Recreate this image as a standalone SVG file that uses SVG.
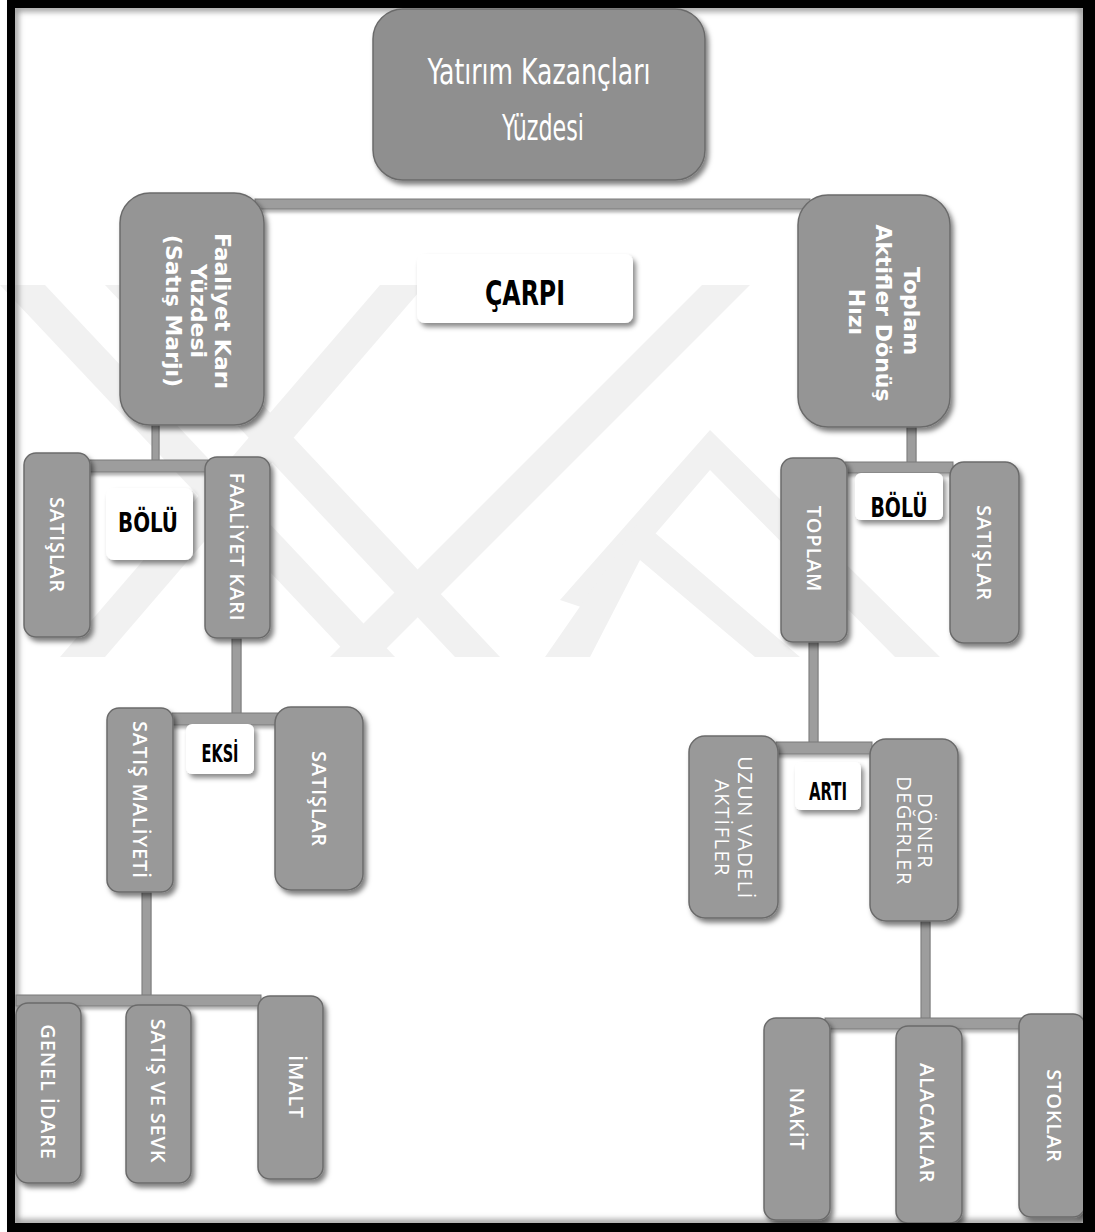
<svg xmlns="http://www.w3.org/2000/svg" width="1095" height="1232" viewBox="0 0 1095 1232">
  <defs>
    <style>
      .box{fill:#999999;stroke:#6b6b6b;stroke-width:1.5;filter:url(#sh)}
      .big{fill:#8f8f8f}
      .bar{fill:#9d9d9d;stroke:#7a7a7a;stroke-width:1;filter:url(#shc)}
      .lbl{fill:#ffffff;filter:url(#shl)}
      .op{font-family:"Liberation Sans Narrow","DejaVu Sans Condensed","Liberation Sans",sans-serif;font-weight:bold;fill:#000000;text-anchor:middle}
      .nt{font-family:"Open Sans","DejaVu Sans",sans-serif;font-size:20px;font-weight:600;letter-spacing:0.8px;fill:#ffffff;text-anchor:middle}
      .nb{font-family:"DejaVu Sans",sans-serif;font-weight:bold;font-size:22px;fill:#ffffff;text-anchor:middle}
      .tt{font-family:"Liberation Sans Narrow","DejaVu Sans Condensed","Liberation Sans",sans-serif;font-size:35px;fill:#ffffff;text-anchor:middle}
      .wm{fill:#f1f1f1}
    </style>
    <filter id="sh" x="-20%" y="-20%" width="150%" height="150%">
      <feDropShadow dx="3" dy="4" stdDeviation="2.5" flood-color="#000000" flood-opacity="0.5"/>
    </filter>
    <filter id="shc" x="-10%" y="-50%" width="120%" height="250%">
      <feDropShadow dx="1" dy="3" stdDeviation="1.5" flood-color="#000000" flood-opacity="0.3"/>
    </filter>
    <filter id="shl" x="-20%" y="-30%" width="150%" height="170%">
      <feDropShadow dx="3" dy="4" stdDeviation="2.5" flood-color="#000000" flood-opacity="0.45"/>
    </filter>
    <filter id="blur" x="-5%" y="-5%" width="110%" height="110%">
      <feGaussianBlur stdDeviation="3"/>
    </filter>
  </defs>

  <!-- page -->
  <rect x="0" y="0" width="1095" height="1232" fill="#ffffff"/>

  <!-- faint background emblem -->
  <g id="emblem" class="wm">
    <polygon points="0,285 45,285 395,657 350,657"/>
    <polygon points="105,285 150,285 500,657 455,657"/>
    <polygon points="60,657 105,657 425,285 380,285"/>
    <polygon points="330,657 378,657 750,285 702,285"/>
    <polygon points="560,600 710,430 940,657 895,657 710,470 590,610"/>
    <polygon points="545,657 640,520 800,657 755,657 640,560 590,657"/>
  </g>

  <!-- inner shading along the frame -->
  <rect x="15" y="8" width="1068" height="1215" fill="none" stroke="#8a8a8a" stroke-width="6" filter="url(#blur)"/>

  <!-- connectors -->
  <g id="connectors">
    <rect class="bar" x="255" y="199" width="555" height="10"/>
    <rect class="bar" x="152" y="420" width="7" height="45"/>
    <rect class="bar" x="88" y="460" width="120" height="12"/>
    <rect class="bar" x="232" y="636" width="9" height="80"/>
    <rect class="bar" x="172" y="713" width="106" height="12"/>
    <rect class="bar" x="142" y="890" width="9" height="108"/>
    <rect class="bar" x="16" y="995" width="245" height="11"/>
    <rect class="bar" x="907" y="424" width="9" height="42"/>
    <rect class="bar" x="845" y="462" width="108" height="11"/>
    <rect class="bar" x="809" y="640" width="9" height="105"/>
    <rect class="bar" x="776" y="742" width="96" height="12"/>
    <rect class="bar" x="921" y="921" width="9" height="100"/>
    <rect class="bar" x="825" y="1018" width="198" height="11"/>
  </g>

  <!-- nodes -->
  <g id="n-root">
    <rect class="box big" x="373" y="9" width="332" height="171" rx="30"/>
    <text class="tt" x="539" y="84" textLength="223" lengthAdjust="spacingAndGlyphs">Yatırım Kazançları</text>
    <text class="tt" x="543" y="140" textLength="82" lengthAdjust="spacingAndGlyphs">Yüzdesi</text>
  </g>

  <g id="n-faaliyet-kari-yuzdesi">
    <rect class="box" x="120" y="193" width="144" height="232" rx="30" style="fill:#959595"/>
    <text class="nb" transform="translate(223 311) rotate(90)" dy="0.36em">Faaliyet Karı</text>
    <text class="nb" transform="translate(199 311) rotate(90)" dy="0.36em">Yüzdesi</text>
    <text class="nb" transform="translate(174 311) rotate(90)" dy="0.36em">(Satış Marjı)</text>
  </g>

  <g id="n-aktif-devir">
    <rect class="box" x="798" y="195" width="152" height="232" rx="30" style="fill:#959595"/>
    <text class="nb" transform="translate(912 311) rotate(90)" dy="0.36em">Toplam</text>
    <text class="nb" transform="translate(884 313) rotate(90)" dy="0.36em">Aktifler Dönüş</text>
    <text class="nb" transform="translate(857 312) rotate(90)" dy="0.36em">Hızı</text>
  </g>

  <g id="n-satislar-1">
    <rect class="box" x="24" y="453" width="66" height="184" rx="12"/>
    <text class="nt" transform="translate(57 545) rotate(90)" dy="0.36em">SATIŞLAR</text>
  </g>

  <g id="n-faaliyet-kari">
    <rect class="box" x="205" y="457" width="65" height="181" rx="12"/>
    <text class="nt" transform="translate(237 547) rotate(90)" dy="0.36em">FAALİYET KARI</text>
  </g>

  <g id="n-satis-maliyeti">
    <rect class="box" x="107" y="708" width="66" height="184" rx="12"/>
    <text class="nt" transform="translate(140 800) rotate(90)" dy="0.36em">SATIŞ MALİYETİ</text>
  </g>

  <g id="n-satislar-2">
    <rect class="box" x="275" y="707" width="88" height="183" rx="16"/>
    <text class="nt" transform="translate(319 799) rotate(90)" dy="0.36em">SATIŞLAR</text>
  </g>

  <g id="n-genel-idare">
    <rect class="box" x="16" y="1003" width="65" height="180" rx="12"/>
    <text class="nt" transform="translate(48 1092) rotate(90)" dy="0.36em">GENEL İDARE</text>
  </g>

  <g id="n-satis-ve-sevk">
    <rect class="box" x="126" y="1005" width="65" height="178" rx="12"/>
    <text class="nt" transform="translate(158 1091) rotate(90)" dy="0.36em">SATIŞ VE SEVK</text>
  </g>

  <g id="n-imalat">
    <rect class="box" x="258" y="996" width="65" height="183" rx="12"/>
    <text class="nt" transform="translate(296 1087) rotate(90)" dy="0.36em">İMALT</text>
  </g>

  <g id="n-toplam">
    <rect class="box" x="781" y="458" width="66" height="184" rx="12"/>
    <text class="nt" transform="translate(814 549) rotate(90)" dy="0.36em">TOPLAM</text>
  </g>

  <g id="n-satislar-3">
    <rect class="box" x="950" y="462" width="69" height="181" rx="14"/>
    <text class="nt" transform="translate(984 553) rotate(90)" dy="0.36em">SATIŞLAR</text>
  </g>

  <g id="n-uzun-vadeli">
    <rect class="box" x="689" y="736" width="89" height="182" rx="16"/>
    <text class="nt" transform="translate(745 828) rotate(90)" dy="0.36em" style="font-weight:400;letter-spacing:1.5px">UZUN VADELİ</text>
    <text class="nt" transform="translate(722 828) rotate(90)" dy="0.36em" style="font-weight:400;letter-spacing:1.5px">AKTİFLER</text>
  </g>

  <g id="n-doner-degerler">
    <rect class="box" x="870" y="739" width="88" height="182" rx="16"/>
    <text class="nt" transform="translate(925 831) rotate(90)" dy="0.36em" style="font-weight:400;letter-spacing:1.5px">DÖNER</text>
    <text class="nt" transform="translate(904 831) rotate(90)" dy="0.36em" style="font-weight:400;letter-spacing:1.5px">DEĞERLER</text>
  </g>

  <g id="n-nakit">
    <rect class="box" x="764" y="1018" width="66" height="202" rx="12"/>
    <text class="nt" transform="translate(797 1119) rotate(90)" dy="0.36em">NAKİT</text>
  </g>

  <g id="n-alacaklar">
    <rect class="box" x="896" y="1026" width="66" height="197" rx="12"/>
    <text class="nt" transform="translate(927 1123) rotate(90)" dy="0.36em">ALACAKLAR</text>
  </g>

  <g id="n-stoklar">
    <rect class="box" x="1019" y="1014" width="66" height="203" rx="12"/>
    <text class="nt" transform="translate(1054 1116) rotate(90)" dy="0.36em">STOKLAR</text>
  </g>

  <!-- operator labels -->
  <g id="op-carpi">
    <rect class="lbl" x="417" y="254" width="216" height="69" rx="8"/>
    <text class="op" x="525" y="305" font-size="34" textLength="80" lengthAdjust="spacingAndGlyphs">ÇARPI</text>
  </g>
  <g id="op-bolu-1">
    <rect class="lbl" x="106" y="488" width="87" height="72" rx="8"/>
    <text class="op" x="148" y="532" font-size="26" textLength="60" lengthAdjust="spacingAndGlyphs">BÖLÜ</text>
  </g>
  <g id="op-eksi">
    <rect class="lbl" x="186" y="724" width="68" height="50" rx="6"/>
    <text class="op" x="220" y="762" font-size="24" textLength="37" lengthAdjust="spacingAndGlyphs">EKSİ</text>
  </g>
  <g id="op-bolu-2">
    <rect class="lbl" x="855" y="473" width="88" height="47" rx="6"/>
    <text class="op" x="899" y="517" font-size="26" textLength="57" lengthAdjust="spacingAndGlyphs">BÖLÜ</text>
  </g>
  <g id="op-arti">
    <rect class="lbl" x="795" y="762" width="66" height="48" rx="6"/>
    <text class="op" x="828" y="800" font-size="24" textLength="38" lengthAdjust="spacingAndGlyphs">ARTI</text>
  </g>

  <!-- frame -->
  <path d="M7 0H1095V1232H7Z M15 8V1223H1083V8Z" fill="#000000" fill-rule="evenodd"/>
</svg>
